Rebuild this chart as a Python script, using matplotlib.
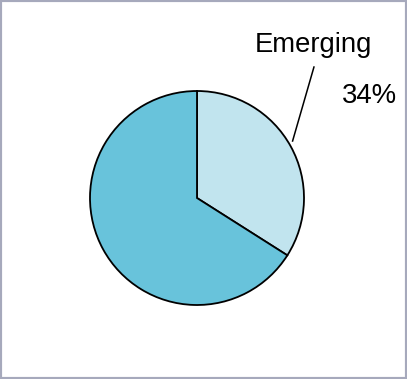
import numpy as np
import matplotlib
matplotlib.use('Agg')
import matplotlib.pyplot as plt
from matplotlib.patches import Rectangle

# Market share split
categories = ['Emerging', 'Established']
shares = [34, 66]
slice_colors = ['#C1E4EE', '#68C3DB']

plt.rcParams['font.family'] = ['Liberation Sans', 'DejaVu Sans']

W, H = 407, 379
fig = plt.figure(figsize=(W / 100, H / 100), dpi=100)
fig.patch.set_facecolor('white')

# outer frame
fig.patches.append(Rectangle((0, 0), 1, 1, transform=fig.transFigure,
                             fill=False, edgecolor='#A6A9BC', linewidth=3.0))

cx, cy, r = 197, 198, 107
ax = fig.add_axes([(cx - r) / W, (H - cy - r) / H, 2 * r / W, 2 * r / H])
wedges, _ = ax.pie(shares, colors=slice_colors, startangle=90, counterclock=False,
                   radius=1.0, wedgeprops=dict(edgecolor='black', linewidth=1.3))
ax.set_xlim(-1, 1)
ax.set_ylim(-1, 1)
ax.set_aspect('equal')
ax.axis('off')

# leader line + labels for the first slice only
w = wedges[0]
mid = np.deg2rad((w.theta1 + w.theta2) / 2 + 2)
x0, y0 = 1.04 * np.cos(mid), 1.04 * np.sin(mid)
ax.plot([x0, 1.093], [y0, 1.224], color='black', lw=1.1, clip_on=False)
ax.text(1.085, 1.43, categories[0], ha='center', va='center', fontsize=19.8, clip_on=False)
ax.text(1.61, 0.95, f'{shares[0]}%', ha='center', va='center', fontsize=19.8, clip_on=False)

fig.savefig('out.png', dpi=100, facecolor='white')
